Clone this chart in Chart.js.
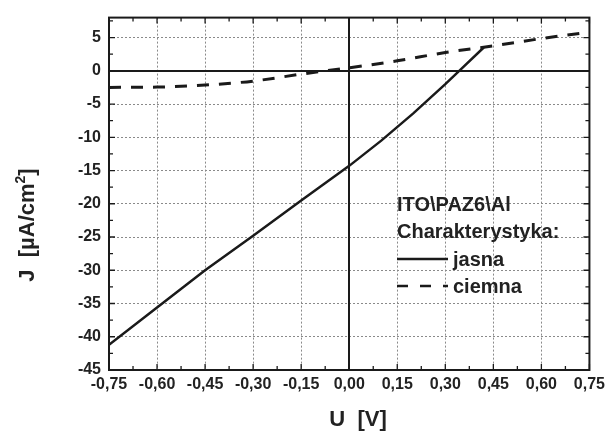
<!DOCTYPE html>
<html>
<head>
<meta charset="utf-8">
<script src="https://cdn.jsdelivr.net/npm/chart.js@4/dist/chart.umd.min.js"></script>
<style>
  html, body { margin: 0; padding: 0; background: #fff; }
  #wrap { width: 610px; height: 431px; }
</style>
</head>
<body>
<div id="wrap"><canvas id="c" width="610" height="431"></canvas></div>
<script>
// Current density vs. voltage for ITO\PAZ6\Al, illuminated and in the dark
const uJasna  = [-0.75, -0.60, -0.45, -0.30, -0.15, 0.00, 0.10, 0.20, 0.30, 0.35, 0.42];
const jJasna  = [-41.2, -35.6, -30.0, -24.8, -19.5, -14.3, -10.5, -6.4, -2.0, 0.3, 3.5];

const uCiemna = [-0.75, -0.60, -0.45, -0.30, -0.15, 0.00, 0.15, 0.30, 0.45, 0.60, 0.75];
const jCiemna = [-2.5, -2.45, -2.15, -1.55, -0.5, 0.45, 1.5, 2.75, 3.75, 4.85, 5.8];

const xTickValues = [-0.75, -0.60, -0.45, -0.30, -0.15, 0.00, 0.15, 0.30, 0.45, 0.60, 0.75];
const yTickValues = [-45, -40, -35, -30, -25, -20, -15, -10, -5, 0, 5];

const seriesNames  = ['jasna', 'ciemna'];
const legendHeader = ['ITO\\PAZ6\\Al', 'Charakterystyka:'];
const xTitle = 'U  [V]';
const yTitleParts = ['J  [\u00b5A/cm', '2', ']'];

const FONT = '"Liberation Sans", Arial, Helvetica, sans-serif';
const INK = '#1a1a1a';
const TEXT = '#222';

const toPoints = (xs, ys) => xs.map((x, i) => ({ x: x, y: ys[i] }));
const fmtComma = v => Number(v).toFixed(2).replace('.', ',');

// zero lines, frame and inward tick marks on all four sides
const framePlugin = {
  id: 'frame',
  beforeDatasetsDraw(chart) {
    const { ctx, chartArea: a, scales: { x, y } } = chart;
    ctx.save();
    ctx.strokeStyle = INK;
    ctx.lineWidth = 2;
    ctx.beginPath();
    const x0 = Math.round(x.getPixelForValue(0));
    const y0 = Math.round(y.getPixelForValue(0));
    ctx.moveTo(x0, a.top); ctx.lineTo(x0, a.bottom);
    ctx.moveTo(a.left, y0); ctx.lineTo(a.right, y0);
    ctx.stroke();
    ctx.restore();
  },
  afterDatasetsDraw(chart) {
    const { ctx, chartArea: a, scales: { x, y } } = chart;
    ctx.save();
    ctx.strokeStyle = INK;
    ctx.lineWidth = 1.3;
    ctx.beginPath();
    // x ticks: major at labels, minor halfway
    for (let i = 0; i < xTickValues.length; i++) {
      const px = x.getPixelForValue(xTickValues[i]);
      ctx.moveTo(px, a.bottom); ctx.lineTo(px, a.bottom - 6);
      ctx.moveTo(px, a.top); ctx.lineTo(px, a.top + 6);
      if (i < xTickValues.length - 1) {
        const pm = x.getPixelForValue((xTickValues[i] + xTickValues[i + 1]) / 2);
        ctx.moveTo(pm, a.bottom); ctx.lineTo(pm, a.bottom - 4);
        ctx.moveTo(pm, a.top); ctx.lineTo(pm, a.top + 4);
      }
    }
    // y ticks
    const yAll = yTickValues.slice();
    for (let i = 0; i < yAll.length; i++) {
      const py = y.getPixelForValue(yAll[i]);
      ctx.moveTo(a.left, py); ctx.lineTo(a.left + 6, py);
      ctx.moveTo(a.right, py); ctx.lineTo(a.right - 6, py);
      const next = i < yAll.length - 1 ? yAll[i + 1] : yAll[i] + 5;
      const mid = (yAll[i] + next) / 2;
      if (mid < y.max) {
        const pm = y.getPixelForValue(mid);
        ctx.moveTo(a.left, pm); ctx.lineTo(a.left + 4, pm);
        ctx.moveTo(a.right, pm); ctx.lineTo(a.right - 4, pm);
      }
    }
    ctx.stroke();
    ctx.lineWidth = 2;
    ctx.strokeRect(a.left, a.top, a.right - a.left, a.bottom - a.top);
    ctx.restore();
  },
  afterDraw(chart) {
    const { ctx, chartArea: a, scales: { x, y } } = chart;
    ctx.save();
    ctx.fillStyle = TEXT;

    // x axis title
    ctx.font = 'bold 22px ' + FONT;
    ctx.textAlign = 'center';
    ctx.textBaseline = 'alphabetic';
    ctx.fillText(xTitle, 358, 426);

    // y axis title, rotated, with superscript
    const mainFont = 'bold 22px ' + FONT;
    const supFont = 'bold 14px ' + FONT;
    ctx.font = mainFont;
    const w0 = ctx.measureText(yTitleParts[0]).width;
    const w2 = ctx.measureText(yTitleParts[2]).width;
    ctx.font = supFont;
    const w1 = ctx.measureText(yTitleParts[1]).width;
    const total = w0 + w1 + w2;
    ctx.translate(34, 225);
    ctx.rotate(-Math.PI / 2);
    ctx.textAlign = 'left';
    let cx = -total / 2;
    ctx.font = mainFont;
    ctx.fillText(yTitleParts[0], cx, 0); cx += w0;
    ctx.font = supFont;
    ctx.fillText(yTitleParts[1], cx, -9); cx += w1;
    ctx.font = mainFont;
    ctx.fillText(yTitleParts[2], cx, 0);
    ctx.setTransform(1, 0, 0, 1, 0, 0);

    // legend block inside the plot
    ctx.font = 'bold 20px ' + FONT;
    ctx.textAlign = 'left';
    ctx.fillText(legendHeader[0], 397, 211);
    ctx.fillText(legendHeader[1], 397, 238);
    const rows = [{ base: 266, line: 259 }, { base: 293, line: 286 }];
    chart.data.datasets.forEach((ds, i) => {
      const r = rows[i];
      ctx.save();
      ctx.strokeStyle = ds.borderColor;
      ctx.lineWidth = 2.5;
      ctx.setLineDash(ds.borderDash ? [11, 12] : []);
      ctx.beginPath();
      ctx.moveTo(397, r.line); ctx.lineTo(448, r.line);
      ctx.stroke();
      ctx.restore();
      ctx.fillText(ds.label, 453, r.base);
    });
    ctx.restore();
  }
};

const tickFont = { family: FONT, size: 16, weight: 'bold' };

new Chart(document.getElementById('c'), {
  type: 'line',
  data: {
    datasets: [
      {
        label: seriesNames[0],
        data: toPoints(uJasna, jJasna),
        borderColor: INK,
        borderWidth: 2.5,
        pointRadius: 0,
        tension: 0,
        fill: false
      },
      {
        label: seriesNames[1],
        data: toPoints(uCiemna, jCiemna),
        borderColor: INK,
        borderWidth: 3,
        borderDash: [12, 10],
        pointRadius: 0,
        cubicInterpolationMode: 'monotone',
        fill: false
      }
    ]
  },
  options: {
    responsive: false,
    animation: false,
    layout: { padding: { top: 16, right: 17, left: 0, bottom: 0 } },
    plugins: { legend: { display: false }, tooltip: { enabled: false } },
    scales: {
      x: {
        type: 'linear',
        min: -0.75,
        max: 0.75,
        afterBuildTicks: s => { s.ticks = xTickValues.map(v => ({ value: v })); },
        afterFit: s => { s.height = 61; },
        ticks: {
          callback: v => fmtComma(v),
          font: tickFont,
          color: TEXT,
          padding: 5,
          autoSkip: false,
          maxRotation: 0
        },
        grid: { color: '#8a8a8a', lineWidth: 1, drawTicks: false },
        border: { display: false, dash: [2, 2] }
      },
      y: {
        type: 'linear',
        min: -45,
        max: 8,
        afterBuildTicks: s => { s.ticks = yTickValues.map(v => ({ value: v })); },
        afterFit: s => { s.width = 109; },
        ticks: {
          callback: v => String(v),
          font: tickFont,
          color: TEXT,
          padding: 8
        },
        grid: { color: '#8a8a8a', lineWidth: 1, drawTicks: false },
        border: { display: false, dash: [2, 2] }
      }
    }
  },
  plugins: [framePlugin]
});
</script>
</body>
</html>
